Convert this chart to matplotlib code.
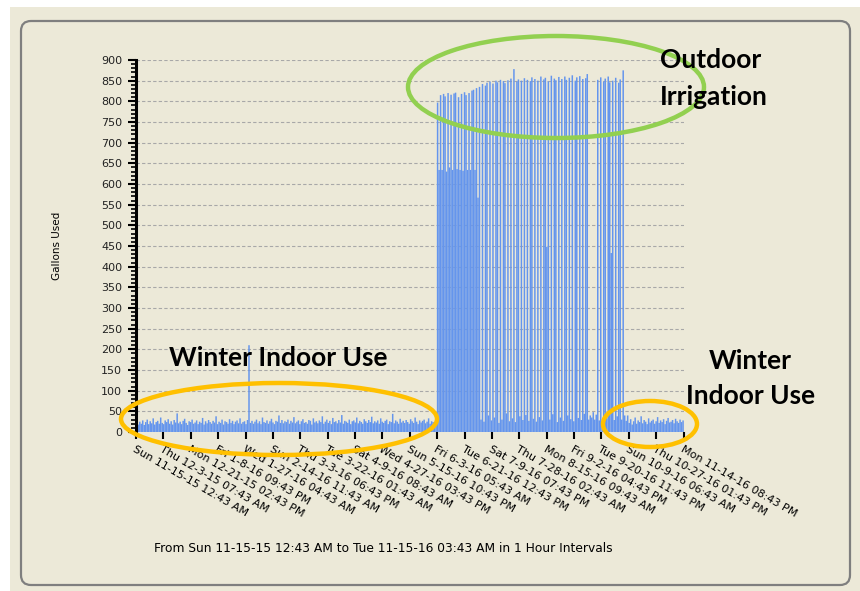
import matplotlib
matplotlib.use("Agg")
import matplotlib.pyplot as plt
from matplotlib.patches import Ellipse, FancyBboxPatch, Rectangle
import numpy as np

# ---------------- data (daily peak gallons) ----------------
winter_start = [
    22, 18, 25, 20, 28, 17, 24, 30, 19, 26, 21, 33, 18, 24, 27, 20, 35, 22, 19, 28,
    24, 31, 20, 26, 18, 29, 23, 45, 21, 25, 19, 27, 32, 22, 17, 26, 24, 30, 20, 23,
    28, 19, 25, 22, 34, 18, 26, 21, 29, 24, 20, 27, 23, 38, 19, 25, 22, 30, 18, 26,
    24, 20, 31, 22, 27, 19, 25, 28, 21, 33, 20, 24, 26, 19, 29, 210, 22, 27, 20, 25,
    30, 21, 26, 19, 35, 24, 22, 28, 20, 26, 32, 23, 19, 27, 25, 40, 22, 29, 21, 26,
    24, 30, 20, 27, 23, 36, 21, 25, 28, 19, 26, 31, 22, 24, 20, 29, 27, 18, 33, 23,
    26, 21, 28, 24, 38, 20, 25, 30, 22, 27, 19, 34, 24, 26, 21, 29, 23, 41, 20, 27,
    25, 22, 30, 19, 26, 28, 23, 35, 21, 27, 24, 20, 31, 26, 22, 29, 24, 37, 21, 26,
    23, 28, 20, 33, 25, 22, 27, 30, 19, 26, 24, 44, 21, 28, 25, 20, 32, 23, 27, 22,
    29, 24, 20, 31, 26, 22, 35, 25, 19, 28, 23, 27, 30, 21, 25, 33, 20, 26, 24, 22,
    28,
]
irrigation = [
    797, 634, 815, 634, 818, 812, 630, 820, 640, 816, 634, 819, 821, 636, 810, 634,
    818, 632, 822, 815, 634, 820, 634, 826, 828,
    634, 832, 567,
    835, 30, 842, 25, 838, 845, 40, 848, 28, 843, 35, 850, 846, 22, 852, 30,
    849, 844, 45, 851, 26, 855, 33, 878, 24, 848, 853, 38, 850, 29, 856, 41,
    852, 27, 849, 858, 32, 854, 25, 850, 36, 860, 28, 853, 857, 448, 848, 30,
    862, 43, 855, 851, 24, 859, 35, 854, 27, 860, 852, 40, 857, 31, 863, 26,
    850, 858, 34, 861, 29, 854, 44, 856, 866, 30, 40, 35, 48, 30, 42, 852,
    28, 858, 26, 848, 855, 33, 860, 846, 433, 850, 29, 857, 38, 845, 853, 30,
    875, 40,
]
winter_end = [
    27, 40, 22, 31, 18, 26, 35, 20, 28, 24, 38, 21, 29, 25, 19, 33, 23, 27, 30, 20,
    26, 36, 22, 28, 24, 31, 19, 27, 34, 23, 25, 29, 21, 32, 26, 22, 30, 24, 28,
]
tick_labels = [
    "Sun 11-15-15 12:43 AM", "Thu 12-3-15 07:43 AM", "Mon 12-21-15 02:43 PM",
    "Fri 1-8-16 09:43 PM", "Wed 1-27-16 04:43 AM", "Sun 2-14-16 11:43 AM",
    "Thu 3-3-16 06:43 PM", "Tue 3-22-16 01:43 AM", "Sat 4-9-16 08:43 AM",
    "Wed 4-27-16 03:43 PM", "Sun 5-15-16 10:43 PM", "Fri 6-3-16 05:43 AM",
    "Tue 6-21-16 12:43 PM", "Sat 7-9-16 07:43 PM", "Thu 7-28-16 02:43 AM",
    "Mon 8-15-16 09:43 AM", "Fri 9-2-16 04:43 PM", "Tue 9-20-16 11:43 PM",
    "Sun 10-9-16 06:43 AM", "Thu 10-27-16 01:43 PM", "Mon 11-14-16 08:43 PM",
]
tick_step_hours = 439
total_hours = 8787

values = winter_start + irrigation + winter_end
days = np.arange(len(values))

W, H = 860, 591
fig = plt.figure(figsize=(W / 100, H / 100), dpi=100, facecolor="white")

# background / frame
bg = fig.add_axes([0, 0, 1, 1], zorder=0)
bg.set_xlim(0, W); bg.set_ylim(H, 0); bg.axis("off")
bg.add_patch(Rectangle((10, 7), W - 10, H - 7, facecolor="#ECE9D8", edgecolor="none"))
bg.add_patch(FancyBboxPatch((21, 21), 829, 564, boxstyle="round,pad=0,rounding_size=10",
                            facecolor="none", edgecolor="#7f7f7f", linewidth=1.6))

# main axes
L, R, T, B = 136, 684, 60, 432
ax = fig.add_axes([L / W, 1 - B / H, (R - L) / W, (B - T) / H], zorder=1)
ax.set_facecolor("none")
ax.bar(days, values, width=1.0, align="edge", color="#6495ED", linewidth=0,
       zorder=2, snap=False)
ax.set_xlim(0, total_hours / 24)
ax.set_ylim(0, 900)
ax.set_yticks(np.arange(0, 901, 50))
ax.set_yticks(np.arange(0, 901, 10), minor=True)
ax.yaxis.grid(True, which="major", color="#a8a8a8", linestyle=(0, (3, 2)), linewidth=0.8, zorder=0)
ax.set_axisbelow(True)
for s in ["top", "right", "bottom"]:
    ax.spines[s].set_visible(False)
ax.spines["left"].set_linewidth(2.2)
ax.spines["left"].set_color("black")
ax.tick_params(axis="y", which="major", length=6, width=1.5, labelsize=8, pad=4, colors="black")
ax.tick_params(axis="y", which="minor", length=3.5, width=1.2, colors="black")
for lab in ax.get_yticklabels():
    lab.set_fontfamily("DejaVu Sans")
    lab.set_color("#222222")

xt = [i * tick_step_hours / 24 for i in range(len(tick_labels))]
ax.set_xticks(xt)
ax.set_xticklabels(tick_labels, rotation=-30, ha="left", va="top", rotation_mode="anchor",
                   fontsize=8, family="DejaVu Sans")
ax.tick_params(axis="x", length=5, width=1.5, pad=4)

ax.set_ylabel("Gallons Used", fontsize=7.5, family="DejaVu Sans", labelpad=28)

# overlay annotations
ov = fig.add_axes([0, 0, 1, 1], zorder=3)
ov.set_xlim(0, W); ov.set_ylim(H, 0); ov.axis("off")
ov.text(383, 549, "From Sun 11-15-15 12:43 AM to Tue 11-15-16 03:43 AM in 1 Hour Intervals",
        ha="center", va="center", fontsize=8.8, family="DejaVu Sans")
orange = "#FFC000"
green = "#92D050"
ov.add_patch(Ellipse((279, 419), 316, 72, facecolor="none", edgecolor=orange, linewidth=3.2))
ov.add_patch(Ellipse((556, 87), 296, 102, facecolor="none", edgecolor=green, linewidth=3.2))
ov.add_patch(Ellipse((650, 424), 94, 46, facecolor="none", edgecolor=orange, linewidth=3.2))
font = dict(family="Lato", weight="bold", fontsize=19, color="black")
ov.text(660, 60, "Outdoor", ha="left", va="center", **font)
ov.text(660, 97, "Irrigation", ha="left", va="center", **font)
ov.text(278, 358, "Winter Indoor Use", ha="center", va="center", **font)
ov.text(750, 361, "Winter", ha="center", va="center", **font)
ov.text(751, 396, "Indoor Use", ha="center", va="center", **font)

fig.savefig("out.png", dpi=100, facecolor="white")
